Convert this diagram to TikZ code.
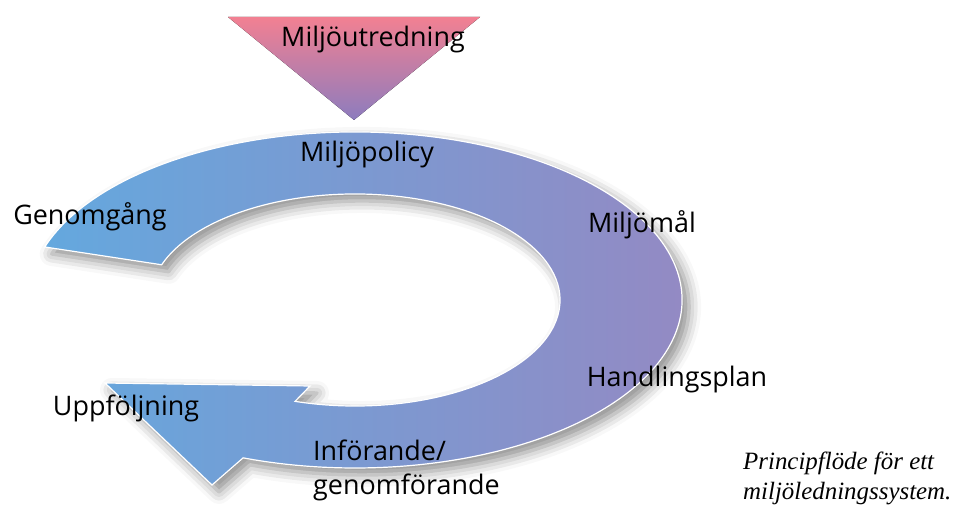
\documentclass[tikz,border=0pt]{standalone}
\usepackage{fontspec}
\setmainfont{Open Sans}
\newfontfamily\capfont{Liberation Serif}
\usetikzlibrary{shadows.blur}

\definecolor{ringblue}{RGB}{100,168,222}
\definecolor{ringmid}{RGB}{134,150,206}
\definecolor{ringpurple}{RGB}{150,136,194}
\definecolor{trpink}{RGB}{242,128,146}
\definecolor{trpurple}{RGB}{140,124,190}

\tikzset{
  lbl/.style={font=\fontsize{27}{35}\selectfont, inner sep=0pt},
  caption/.style={font=\capfont\itshape\fontsize{25}{30}\selectfont, inner sep=0pt, align=left},
  ring/.style={draw=white, line width=1.2bp, left color=ringblue, middle color=ringmid, right color=ringpurple,
    blur shadow={shadow xshift=7bp, shadow yshift=-7bp, shadow blur radius=12bp, shadow opacity=45}},
  funnel/.style={top color=trpink, bottom color=trpurple}
}

\begin{document}
\begin{tikzpicture}[x=1bp,y=1bp]
\useasboundingbox (0,0) rectangle (957,507);

% ring with arrow head
\coordinate (c) at (355,207);
\path (c) ++(161.6:327bp and 168bp) coordinate (oa);
\path (c) ++(-107:205bp and 106bp) coordinate (ib);
\coordinate (hb) at (212,22);
\coordinate (ht) at (105,124);
\coordinate (hr) at (310,121);

\path[ring] (oa) arc[start angle=161.6, end angle=-110, x radius=327bp, y radius=168bp]
  -- (hb) -- (ht) -- (hr) -- (ib)
  arc[start angle=-107, end angle=160.6, x radius=205bp, y radius=106bp] -- cycle;

% funnel on top
\coordinate (fl) at (228,490);
\coordinate (fr) at (480,490);
\coordinate (fb) at (354,387);
\fill[funnel] (fl) -- (fr) -- (fb) -- cycle;

\node[lbl] (utred) at (373,467) {Miljöutredning};
\node[lbl] (policy) at (367,352) {Miljöpolicy};
\node[lbl] (genom) at (90,290) {Genomgång};
\node[lbl] (mal) at (642,282) {Miljömål};
\node[lbl] (plan) at (677,127) {Handlingsplan};
\node[lbl] (uppf) at (126,99) {Uppföljning};
\node[lbl, align=left, anchor=west] (inf) at (313,36.5) {Införande/\\genomförande};

\node[caption, anchor=west] (cap) at (743,29) {Principflöde för ett\\miljöledningssystem.};

\end{tikzpicture}
\end{document}
